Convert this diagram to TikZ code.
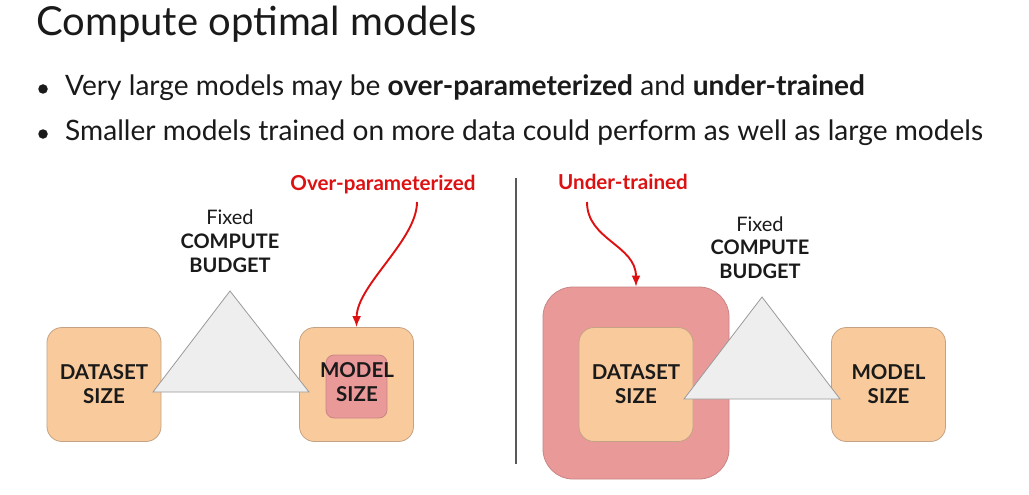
\documentclass[tikz,border=0pt]{standalone}
\usepackage{fontspec}
\setmainfont{Lato}
\usetikzlibrary{arrows.meta}

\definecolor{peach}{HTML}{F9CB9C}
\definecolor{peachline}{HTML}{C4A384}
\definecolor{rose}{HTML}{EA9999}
\definecolor{roseline}{HTML}{C98585}
\definecolor{budgetfill}{HTML}{EEEEEE}
\definecolor{budgetline}{HTML}{9A9A9A}
\definecolor{alertred}{HTML}{DD1111}
\definecolor{ink}{HTML}{1A1A1A}

\tikzset{
  sizebox/.style={draw=peachline, line width=0.8pt, fill=peach, rounded corners=15pt,
    minimum width=114pt, minimum height=114pt, inner sep=0pt,
    align=center, text=ink, font=\fontsize{20.5}{24}\selectfont\bfseries},
  excessbox/.style={draw=roseline, line width=0.8pt, fill=rose, inner sep=0pt},
  budget/.style={draw=budgetline, line width=0.8pt, fill=budgetfill, line join=miter},
  fixedtext/.style={anchor=base, inner sep=0pt, text=ink, font=\fontsize{20}{24}\selectfont},
  budgettext/.style={anchor=base, inner sep=0pt, text=ink, font=\fontsize{20}{24}\selectfont\bfseries},
  alertlabel/.style={anchor=base, inner sep=0pt, text=alertred, font=\fontsize{20.6}{24}\selectfont\bfseries},
  alertarrow/.style={draw=alertred, line width=1.9pt, -{Latex[length=11pt,width=9pt]}},
  bulletdot/.style={circle, fill=ink, inner sep=0pt, minimum size=9.5pt},
  bullettext/.style={anchor=base west, inner sep=0pt, text=ink, font=\fontsize{28.1}{32}\selectfont},
}

\begin{document}
\begin{tikzpicture}[x=1pt, y=-1pt]
  \path[use as bounding box, fill=white] (0,0) rectangle (1029,495);

  % heading and bullet points
  \node[anchor=base west, inner sep=0pt, text=ink, font=\fontsize{40}{46}\selectfont]
    (title) at (36,36) {Compute optimal models};
  \node[bulletdot] (dot1) at (43,89) {};
  \node[bullettext] (line1) at (65,95.5)
    {Very large models may be \textbf{over-parameterized} and \textbf{under-trained}};
  \node[bulletdot] (dot2) at (43,134) {};
  \node[bullettext] (line2) at (65,140.5)
    {Smaller models trained on more data could perform as well as large models};

  % ---- left panel: model too large for the budget ----
  \node[sizebox] (dataL) at (104,384.5) {DATASET\\SIZE};
  \node[sizebox] (modelL) at (356.5,384.5) {};
  \node[excessbox, rounded corners=8pt, minimum width=61pt, minimum height=63pt]
    (excessL) at (356.5,386.5) {};
  \node[inner sep=0pt, align=center, text=ink, font=\fontsize{20.5}{24}\selectfont\bfseries]
    (modeltextL) at (357,382.5) {MODEL\\SIZE};
  \draw[budget] (230,291) coordinate (apexL) -- (309,392) coordinate (rightL)
    -- (153,392) coordinate (leftL) -- cycle;
  \node[fixedtext] (fixedL) at (230,224) {Fixed};
  \node[budgettext] (computeL) at (230,248) {COMPUTE};
  \node[budgettext] (budgetL) at (230,272) {BUDGET};

  \node[alertlabel] (overL) at (383,190) {Over-parameterized};
  \coordinate (overS) at (417,202);
  \draw[alertarrow] (overS) .. controls (417,240) and (357,285) .. (modelL.north);

  % divider
  \coordinate (divTop) at (516,178);
  \coordinate (divBot) at (516,464);
  \draw[line width=1.3pt, draw=black!65] (divTop) -- (divBot);

  % ---- right panel: data too small for the budget ----
  \node[excessbox, rounded corners=30pt, minimum width=186pt, minimum height=192pt]
    (excessR) at (636,383) {};
  \node[sizebox] (dataR) at (636,384.5) {DATASET\\SIZE};
  \node[sizebox] (modelR) at (888.5,384.5) {MODEL\\SIZE};
  \draw[budget] (762,297) coordinate (apexR) -- (840,399) coordinate (rightR)
    -- (684,399) coordinate (leftR) -- cycle;
  \node[fixedtext] (fixedR) at (760,231) {Fixed};
  \node[budgettext] (computeR) at (760,254) {COMPUTE};
  \node[budgettext] (budgetR) at (760,278) {BUDGET};

  \node[alertlabel] (underR) at (623,189) {Under-trained};
  \coordinate (underS) at (587,202);
  \draw[alertarrow] (underS) .. controls (587,240) and (636,245) .. (excessR.north);
\end{tikzpicture}
\end{document}
